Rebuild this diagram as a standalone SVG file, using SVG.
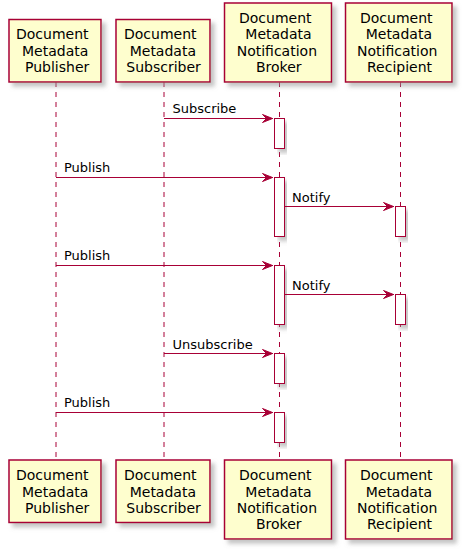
<svg xmlns="http://www.w3.org/2000/svg" width="470" height="557" viewBox="0 0 470 557">
<defs>
<filter id="sh" x="-10%" y="-10%" width="130%" height="130%">
<feGaussianBlur in="SourceAlpha" stdDeviation="2" result="b"/>
<feColorMatrix in="b" type="matrix" values="0 0 0 0 0.3  0 0 0 0 0.3  0 0 0 0 0.3  0 0 0 0.55 0" result="c"/>
<feOffset in="c" dx="4" dy="4" result="o"/>
<feMerge><feMergeNode in="o"/><feMergeNode in="SourceGraphic"/></feMerge>
</filter>
</defs>
<style>
.box{fill:#FEFECE;stroke:#A80036;stroke-width:1.5;filter:url(#sh)}
.act{fill:#FFFFFF;stroke:#A80036;stroke-width:1;filter:url(#sh)}
.life{stroke:#A80036;stroke-width:1;stroke-dasharray:5,5;fill:none}
.msg{stroke:#A80036;stroke-width:1;fill:none}
.head{fill:#A80036;stroke:#A80036;stroke-width:1}
.pt{font-family:"DejaVu Sans",sans-serif;font-size:14px;fill:#000}
.mt{font-family:"DejaVu Sans",sans-serif;font-size:13px;fill:#000}
</style>
<g id="lifelines">
<line class="life" x1="56" y1="82" x2="56" y2="460"/>
<line class="life" x1="164" y1="82" x2="164" y2="460"/>
<line class="life" x1="279.5" y1="82" x2="279.5" y2="460"/>
<line class="life" x1="400.5" y1="82" x2="400.5" y2="460"/>
</g>
<g id="publisher">
<rect class="box" x="9" y="19.5" width="92" height="62.5"/>
<text class="pt" x="16" y="39.3">Document</text>
<text class="pt" x="22" y="55.7">Metadata</text>
<text class="pt" x="25" y="72">Publisher</text>
<rect class="box" x="9" y="460" width="92" height="62.5"/>
<text class="pt" x="16" y="480.3">Document</text>
<text class="pt" x="22" y="496.6">Metadata</text>
<text class="pt" x="25" y="513">Publisher</text>
</g>
<g id="subscriber">
<rect class="box" x="116" y="19.5" width="94" height="62.5"/>
<text class="pt" x="124" y="39.3">Document</text>
<text class="pt" x="129.7" y="55.7">Metadata</text>
<text class="pt" x="126.3" y="72">Subscriber</text>
<rect class="box" x="116" y="460" width="94" height="62.5"/>
<text class="pt" x="124" y="480.3">Document</text>
<text class="pt" x="129.7" y="496.6">Metadata</text>
<text class="pt" x="126.3" y="513">Subscriber</text>
</g>
<g id="broker">
<rect class="box" x="224.5" y="3" width="107" height="79"/>
<text class="pt" x="239" y="23">Document</text>
<text class="pt" x="245.3" y="39.3">Metadata</text>
<text class="pt" x="236.7" y="55.7">Notification</text>
<text class="pt" x="256" y="72">Broker</text>
<rect class="box" x="224.5" y="460" width="107" height="79"/>
<text class="pt" x="239" y="480.3">Document</text>
<text class="pt" x="245.3" y="496.6">Metadata</text>
<text class="pt" x="236.7" y="513">Notification</text>
<text class="pt" x="256" y="529.3">Broker</text>
</g>
<g id="recipient">
<rect class="box" x="345.5" y="3" width="106.5" height="79"/>
<text class="pt" x="360" y="23">Document</text>
<text class="pt" x="365.7" y="39.3">Metadata</text>
<text class="pt" x="357" y="55.7">Notification</text>
<text class="pt" x="367" y="72">Recipient</text>
<rect class="box" x="345.5" y="460" width="106.5" height="79"/>
<text class="pt" x="360" y="480.3">Document</text>
<text class="pt" x="365.7" y="496.6">Metadata</text>
<text class="pt" x="357" y="513">Notification</text>
<text class="pt" x="367" y="529.3">Recipient</text>
</g>
<g id="activations">
<rect class="act" x="274.5" y="118.5" width="10" height="30"/>
<rect class="act" x="274.5" y="177.5" width="10" height="59"/>
<rect class="act" x="395.5" y="206.5" width="10" height="30"/>
<rect class="act" x="274.5" y="265.5" width="10" height="59"/>
<rect class="act" x="395.5" y="294.5" width="10" height="30"/>
<rect class="act" x="274.5" y="353.5" width="10" height="30"/>
<rect class="act" x="274.5" y="412.5" width="10" height="30"/>
</g>
<g id="connectors">
<line class="msg" x1="164" y1="118.5" x2="273" y2="118.5"/>
<polygon class="head" points="262.5,114.5 272.5,118.5 262.5,122.5 266.5,118.5"/>
<text class="mt" x="172.5" y="112.7">Subscribe</text>

<line class="msg" x1="56" y1="177.5" x2="273" y2="177.5"/>
<polygon class="head" points="262.5,173.5 272.5,177.5 262.5,181.5 266.5,177.5"/>
<text class="mt" x="64" y="171.7">Publish</text>

<line class="msg" x1="284.5" y1="206.5" x2="394" y2="206.5"/>
<polygon class="head" points="383.5,202.5 393.5,206.5 383.5,210.5 387.5,206.5"/>
<text class="mt" x="292" y="201.7">Notify</text>

<line class="msg" x1="56" y1="265.5" x2="273" y2="265.5"/>
<polygon class="head" points="262.5,261.5 272.5,265.5 262.5,269.5 266.5,265.5"/>
<text class="mt" x="64" y="259.7">Publish</text>

<line class="msg" x1="284.5" y1="294.5" x2="394" y2="294.5"/>
<polygon class="head" points="383.5,290.5 393.5,294.5 383.5,298.5 387.5,294.5"/>
<text class="mt" x="292" y="289.7">Notify</text>

<line class="msg" x1="164" y1="353.5" x2="273" y2="353.5"/>
<polygon class="head" points="262.5,349.5 272.5,353.5 262.5,357.5 266.5,353.5"/>
<text class="mt" x="172.5" y="348.7">Unsubscribe</text>

<line class="msg" x1="56" y1="412.5" x2="273" y2="412.5"/>
<polygon class="head" points="262.5,408.5 272.5,412.5 262.5,416.5 266.5,412.5"/>
<text class="mt" x="64" y="406.7">Publish</text>
</g>
</svg>
